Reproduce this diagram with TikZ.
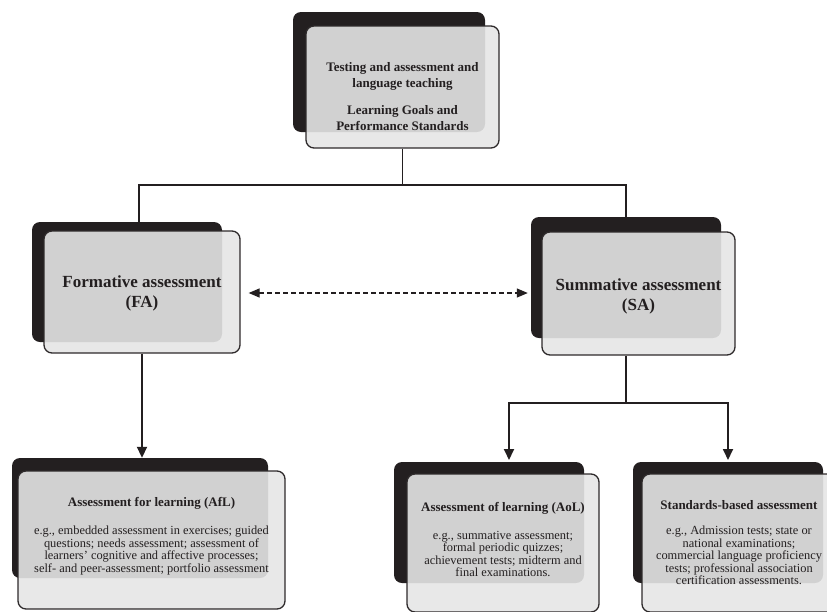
\documentclass[tikz,border=0pt]{standalone}
\usepackage{fontspec}
\setmainfont{Liberation Serif}
\usetikzlibrary{arrows.meta}
\definecolor{ink}{HTML}{231F20}
\definecolor{panel}{gray}{0.9}
\begin{document}
\begin{tikzpicture}[x=1pt,y=-1pt,
  backbox/.style={fill=ink, rounded corners=8pt, inner sep=0pt, rectangle},
  frontbox/.style={draw=ink!95, line width=1.3pt, fill=panel, fill opacity=0.9,
    rounded corners=8pt, inner sep=0pt, rectangle},
  link/.style={draw=ink, line width=1.8pt},
  linkarrow/.style={link, -{Triangle[length=11pt,width=10pt]}},
  twoway/.style={draw=ink, line width=1.3pt, dash pattern=on 4.5pt off 3.5pt,
    {Triangle[length=11pt,width=9pt]}-{Triangle[length=11pt,width=9pt]}},
  headtext/.style={align=center, inner sep=0pt, text=ink,
    font=\bfseries\fontsize{13}{16}\selectfont},
  bigtext/.style={align=center, inner sep=0pt, text=ink,
    font=\bfseries\fontsize{17}{20}\selectfont},
  titletext/.style={align=center, inner sep=0pt, text=ink,
    font=\bfseries\fontsize{13}{14}\selectfont},
  bodytext/.style={align=center, inner sep=0pt, text=ink,
    font=\fontsize{12.4}{12.6}\selectfont},
]
\useasboundingbox (0,0) rectangle (827,611);

% dark backing plates
\node[backbox, minimum width=192pt, minimum height=120pt] (topB) at (389,72) {};
\node[backbox, minimum width=190pt, minimum height=120pt] (faB) at (127,282) {};
\node[backbox, minimum width=190pt, minimum height=121pt] (saB) at (626,277.5) {};
\node[backbox, minimum width=256pt, minimum height=120pt] (aflB) at (140,518) {};
\node[backbox, minimum width=190pt, minimum height=121pt] (aolB) at (489,522.5) {};
\node[backbox, minimum width=190pt, minimum height=121pt] (stdB) at (728,522.5) {};

% light front panels
\node[frontbox, minimum width=193pt, minimum height=122pt] (top) at (402.5,87) {};
\node[frontbox, minimum width=196pt, minimum height=122pt] (fa) at (142,292) {};
\node[frontbox, minimum width=193pt, minimum height=123pt] (sa) at (638.5,293.5) {};
\node[frontbox, minimum width=267pt, minimum height=138pt] (afl) at (151.5,540) {};
\node[frontbox, minimum width=192pt, minimum height=138pt] (aol) at (503,543) {};
\node[frontbox, minimum width=194pt, minimum height=138pt] (std) at (739,543) {};

% branching points of the tree
\coordinate (hub) at (402.5,185);
\coordinate (faIn) at (139,222);
\coordinate (saIn) at (626,217);
\coordinate (split) at (626,403);
\coordinate (aolIn) at (509,460);
\coordinate (stdIn) at (728,460);

\draw[link] (top.south) -- (hub);
\draw[link] (hub) -| (faIn);
\draw[link] (hub) -| (saIn);
\draw[linkarrow] (fa.south) -- (fa.south |- aflB.north);
\draw[link] (saB.south |- sa.south) -- (split);
\draw[linkarrow] (split) -| (aolIn);
\draw[linkarrow] (split) -| (stdIn);
\draw[twoway] ([xshift=8pt,yshift=-1pt]fa.east) -- ([xshift=-3pt,yshift=-1pt]fa.east -| saB.west);

% texts
\node[headtext] (topT) at (402.5,96.5) {Testing and assessment and\\language teaching\\[11pt]Learning Goals and\\Performance Standards};
\node[bigtext] (faT) at (142,293) {Formative assessment\\(FA)};
\node[bigtext] (saT) at (638.5,296) {Summative assessment\\(SA)};

\node[titletext] (aflT) at (151.5,503) {Assessment for learning (AfL)};
\node[bodytext] (aflD) at (151.5,550.5) {e.g., embedded assessment in exercises; guided\\questions; needs assessment; assessment of\\learners’ cognitive and affective processes;\\self- and peer-assessment; portfolio assessment};

\node[titletext] (aolT) at (503,508) {Assessment of learning (AoL)};
\node[bodytext] (aolD) at (503,554) {e.g., summative assessment;\\formal periodic quizzes;\\achievement tests; midterm and\\final examinations.};

\node[titletext] (stdT) at (739,505) {Standards-based assessment};
\node[bodytext] (stdD) at (739,555.5) {e.g., Admission tests; state or\\national examinations;\\commercial language proficiency\\tests; professional association\\certification assessments.};
\end{tikzpicture}
\end{document}
